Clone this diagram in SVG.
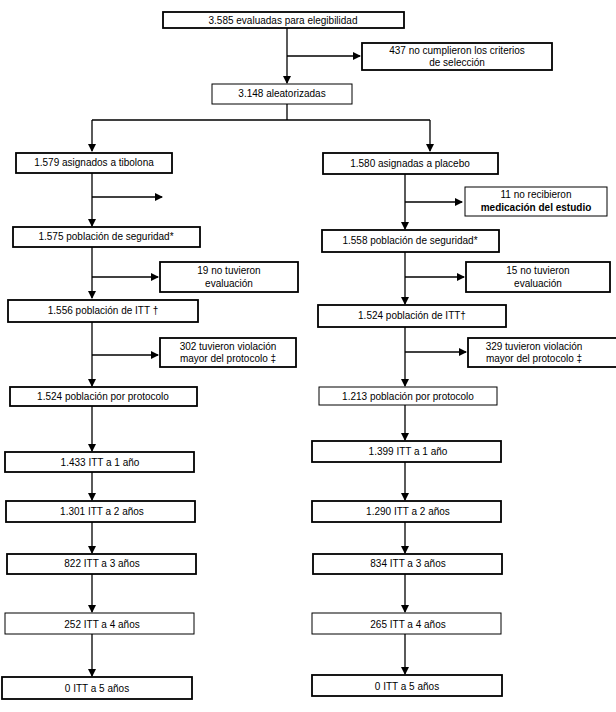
<svg xmlns="http://www.w3.org/2000/svg" width="616" height="712" viewBox="0 0 616 712">
<defs>
<marker id="ah" markerWidth="8" markerHeight="8" refX="7" refY="4" orient="auto" markerUnits="userSpaceOnUse"><path d="M0,0 L8,4 L0,8 Z" fill="#000"/></marker>
<style>
rect{fill:#fff;stroke:#000;stroke-width:1.8}
text{font-family:"Liberation Sans",Arial,sans-serif;font-size:10px;text-anchor:middle;fill:#000}
.c line,.c path{stroke:#000;stroke-width:1.3;fill:none}
.b{font-weight:bold}
</style>
</defs>
<rect x="0" y="0" width="616" height="712" style="fill:#fff;stroke:none"/>
<g class="c">
<line x1="287" y1="28" x2="287" y2="83" marker-end="url(#ah)"/>
<line x1="287" y1="56" x2="360" y2="56" marker-end="url(#ah)"/>
<path d="M287,104 V120 M92,120 H430"/>
<line x1="92" y1="120" x2="92" y2="151" marker-end="url(#ah)"/>
<line x1="430" y1="120" x2="430" y2="151" marker-end="url(#ah)"/>
<line x1="92" y1="173" x2="92" y2="226" marker-end="url(#ah)"/>
<line x1="92" y1="197" x2="162" y2="197" marker-end="url(#ah)"/>
<line x1="405" y1="174" x2="405" y2="229" marker-end="url(#ah)"/>
<line x1="405" y1="202" x2="462" y2="202" marker-end="url(#ah)"/>
<line x1="92" y1="247" x2="92" y2="298" marker-end="url(#ah)"/>
<line x1="92" y1="277" x2="158" y2="277" marker-end="url(#ah)"/>
<line x1="405" y1="252" x2="405" y2="304" marker-end="url(#ah)"/>
<line x1="405" y1="277" x2="464" y2="277" marker-end="url(#ah)"/>
<line x1="92" y1="322" x2="92" y2="386" marker-end="url(#ah)"/>
<line x1="92" y1="355" x2="158" y2="355" marker-end="url(#ah)"/>
<line x1="405" y1="327" x2="405" y2="386" marker-end="url(#ah)"/>
<line x1="405" y1="352" x2="466" y2="352" marker-end="url(#ah)"/>
<line x1="92" y1="406" x2="92" y2="451" marker-end="url(#ah)"/>
<line x1="405" y1="405" x2="405" y2="440" marker-end="url(#ah)"/>
<line x1="92" y1="472" x2="92" y2="500" marker-end="url(#ah)"/>
<line x1="405" y1="462" x2="405" y2="500" marker-end="url(#ah)"/>
<line x1="92" y1="522" x2="92" y2="553" marker-end="url(#ah)"/>
<line x1="405" y1="522" x2="405" y2="553" marker-end="url(#ah)"/>
<line x1="92" y1="574" x2="92" y2="612" marker-end="url(#ah)"/>
<line x1="405" y1="574" x2="405" y2="612" marker-end="url(#ah)"/>
<line x1="92" y1="634" x2="92" y2="676" marker-end="url(#ah)"/>
<line x1="405" y1="634" x2="405" y2="674" marker-end="url(#ah)"/>
</g>
<g id="n1"><rect x="163" y="12" width="241" height="16"/><text x="283" y="24">3.585 evaluadas para elegibilidad</text></g>
<g id="n2"><rect x="362" y="43" width="190" height="27"/><text x="457" y="54">437 no cumplieron los criterios</text><text x="457" y="66">de selección</text></g>
<g id="n3"><rect x="212" y="84" width="140" height="20" style="stroke-width:1"/><text x="282" y="97">3.148 aleatorizadas</text></g>
<g id="n4"><rect x="16" y="153" width="156" height="20"/><text x="94" y="166">1.579 asignados a tibolona</text></g>
<g id="n5"><rect x="323" y="153" width="175" height="21"/><text x="410" y="167">1.580 asignadas a placebo</text></g>
<g id="n6"><rect x="465" y="187" width="142" height="29" style="stroke-width:1"/><text x="536" y="198">11 no recibieron</text><text x="536" y="211" class="b">medicación del estudio</text></g>
<g id="n7"><rect x="13" y="227" width="187" height="20"/><text x="106" y="240">1.575 población de seguridad*</text></g>
<g id="n8"><rect x="322" y="230" width="177" height="22"/><text x="410" y="244">1.558 población de seguridad*</text></g>
<g id="n9"><rect x="160" y="262" width="138" height="30"/><text x="229" y="274">19 no tuvieron</text><text x="229" y="287">evaluación</text></g>
<g id="n10"><rect x="466" y="262" width="144" height="30"/><text x="538" y="274">15 no tuvieron</text><text x="538" y="287">evaluación</text></g>
<g id="n11"><rect x="8" y="300" width="190" height="22"/><text x="103" y="314">1.556 población de ITT †</text></g>
<g id="n12"><rect x="318" y="305" width="188" height="22"/><text x="412" y="319">1.524 población de ITT†</text></g>
<g id="n13"><rect x="160" y="338" width="136" height="29"/><text x="228" y="350">302 tuvieron violación</text><text x="228" y="362">mayor del protocolo ‡</text></g>
<g id="n14"><rect x="468" y="338" width="150" height="29"/><text x="534" y="350">329 tuvieron violación</text><text x="534" y="362">mayor del protocolo ‡</text></g>
<g id="n15"><rect x="10" y="387" width="187" height="19"/><text x="103" y="400">1.524 población por protocolo</text></g>
<g id="n16"><rect x="319" y="387" width="178" height="18" style="stroke-width:1"/><text x="408" y="400">1.213 población por protocolo</text></g>
<g id="n17"><rect x="5" y="452" width="189" height="20"/><text x="100" y="466">1.433 ITT a  1 año</text></g>
<g id="n18"><rect x="312" y="441" width="189" height="21"/><text x="408" y="455">1.399 ITT a 1 año</text></g>
<g id="n19"><rect x="6" y="501" width="189" height="21"/><text x="102" y="515">1.301 ITT a 2 años</text></g>
<g id="n20"><rect x="312" y="501" width="189" height="21"/><text x="408" y="515">1.290 ITT a 2 años</text></g>
<g id="n21"><rect x="7" y="554" width="189" height="20"/><text x="102" y="567">822 ITT a 3 años</text></g>
<g id="n22"><rect x="313" y="554" width="189" height="20"/><text x="408" y="567">834 ITT a 3 años</text></g>
<g id="n23"><rect x="5" y="613" width="189" height="21" style="stroke-width:1"/><text x="102" y="628">252 ITT a 4 años</text></g>
<g id="n24"><rect x="312" y="613" width="189" height="21" style="stroke-width:1"/><text x="408" y="628">265 ITT a 4 años</text></g>
<g id="n25"><rect x="2" y="677" width="190" height="22"/><text x="97" y="692">0  ITT a 5 años</text></g>
<g id="n26"><rect x="312" y="675" width="190" height="21"/><text x="407" y="690">0 ITT a 5 años</text></g>
</svg>
